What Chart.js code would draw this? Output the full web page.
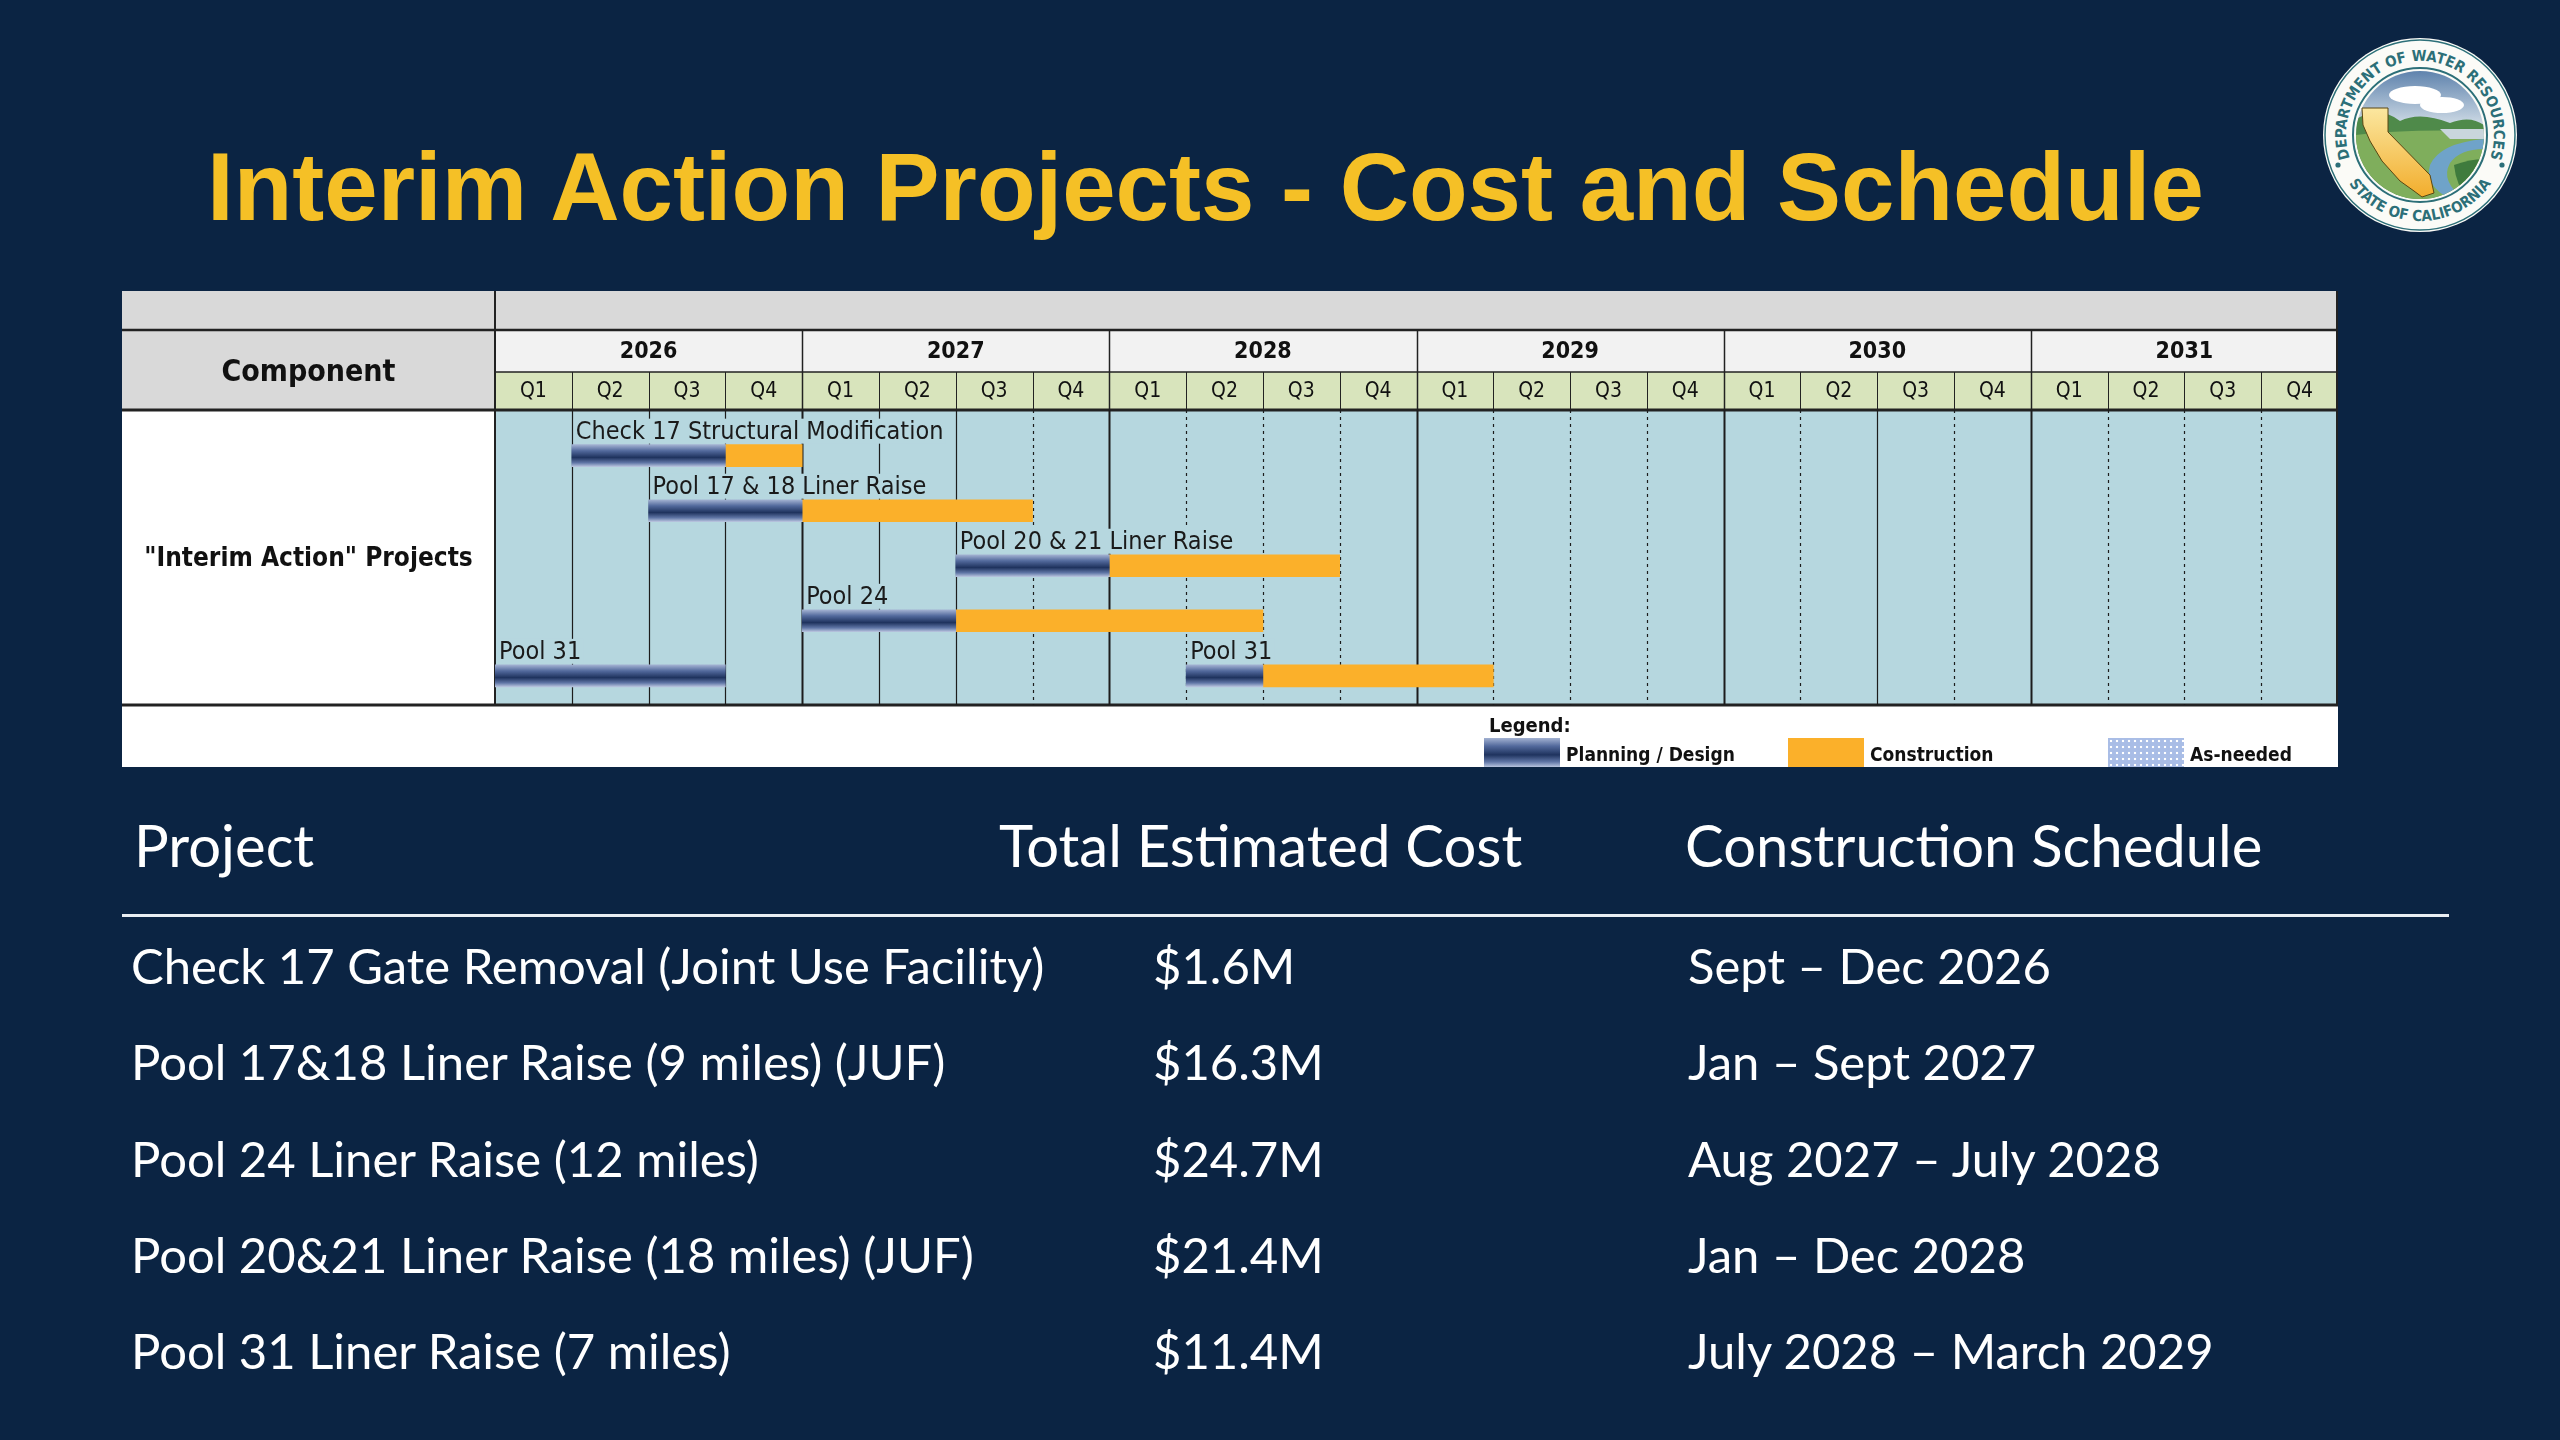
<!DOCTYPE html>
<html>
<head>
<meta charset="utf-8">
<title>Interim Action Projects - Cost and Schedule</title>
<script src="https://cdn.jsdelivr.net/npm/chart.js"></script>
<style>
  html, body { margin: 0; padding: 0; }
  body { width: 2560px; height: 1440px; background: #0b2443; position: relative; overflow: hidden; font-family: Lato, sans-serif; color: #fff; }
  #title { position: absolute; left: 207px; top: 139px; font: bold 96px "Liberation Sans", Arial, sans-serif; line-height: 1; color: #f5c026; white-space: nowrap; }
  #gantt { position: absolute; left: 122px; top: 291px; }
  #seal { position: absolute; left: 2320px; top: 35px; }
  .lg { position: absolute; font: bold 19px "DejaVu Sans Condensed", "DejaVu Sans", sans-serif; color: #111; white-space: nowrap; line-height: 1; }
  .sw { position: absolute; }
  .cell { position: absolute; white-space: nowrap; line-height: 1; color: #fff; }
  .head { font-size: 58px; }
  .row { font-size: 49px; }
  #rule { position: absolute; left: 122px; top: 914px; width: 2327px; height: 3px; background: #e9eef3; }
</style>
</head>
<body>
<div id="title">Interim Action Projects - Cost and Schedule</div>

<svg id="seal" width="200" height="200" viewBox="-100 -100 200 200">
  <defs>
    <path id="topArc" d="M -69.5 25.3 A 74 74 0 1 1 69.5 25.3"/>
    <path id="botArc" d="M -74.5 43 A 86 86 0 0 0 74.5 43"/>
    <clipPath id="inner"><circle r="64"/></clipPath>
    <linearGradient id="sky" x1="0" y1="0" x2="0" y2="1">
      <stop offset="0" stop-color="#5f83ad"/><stop offset="1" stop-color="#e3ebf0"/>
    </linearGradient>
    <linearGradient id="gold" x1="0" y1="0" x2="0" y2="1">
      <stop offset="0" stop-color="#fbe7a0"/><stop offset="1" stop-color="#f2ad2c"/>
    </linearGradient>
  </defs>
  <circle r="97" fill="#fbfbf7"/>
  <circle r="95" fill="none" stroke="#2c6f78" stroke-width="1.5"/>
  <circle r="67" fill="none" stroke="#2c6f78" stroke-width="2"/>
  <g clip-path="url(#inner)">
    <rect x="-64" y="-64" width="128" height="64" fill="url(#sky)"/>
    <ellipse cx="-5" cy="-40" rx="26" ry="9" fill="#fff"/>
    <ellipse cx="22" cy="-30" rx="22" ry="8" fill="#fff"/>
    <path d="M -64 -16 Q -40 -30 -20 -14 Q 0 -24 30 -12 Q 50 -20 64 -10 L 64 64 L -64 64 Z" fill="#4f8a4a"/>
    <path d="M -64 0 Q -20 -6 64 -4 L 64 64 L -64 64 Z" fill="#7fae5c"/>
    <path d="M 20 -6 L 64 -6 L 64 4 L 30 4 Z" fill="#c9d6dc"/>
    <path d="M 64 4 Q 20 8 10 30 Q 4 50 30 64 L 44 64 Q 20 46 30 28 Q 40 14 64 14 Z" fill="#6fa3c9"/>
    <path d="M 34 30 Q 50 24 64 24 L 64 64 L 48 64 Q 36 50 34 30 Z" fill="#3f7b3d"/>
  </g>
  <path d="M -58 -27 L -32 -27 L -32 -3 L 10 40 L 14 58 L 2 62 L -6 56 L -20 46 L -38 26 L -50 6 L -57 -10 Z" fill="url(#gold)" stroke="#5a4612" stroke-width="1"/>
  <text font-family="DejaVu Sans Condensed, DejaVu Sans, sans-serif" font-weight="bold" font-size="15" fill="#2c6f78"><textPath href="#topArc" startOffset="50%" text-anchor="middle">DEPARTMENT OF WATER RESOURCES</textPath></text>
  <text font-family="DejaVu Sans Condensed, DejaVu Sans, sans-serif" font-weight="bold" font-size="15" fill="#2c6f78"><textPath href="#botArc" startOffset="50%" text-anchor="middle">STATE OF CALIFORNIA</textPath></text>
  <circle cx="-82" cy="30" r="2.6" fill="#2c6f78"/>
  <circle cx="82" cy="30" r="2.6" fill="#2c6f78"/>
</svg>

<canvas id="gantt" width="2216" height="476"></canvas>
<div id="legend"></div>

<div id="costTable"></div>
<div id="rule"></div>

<script>
// timeline: quarters counted from 2026 Q1 (0) to end of 2031 Q4 (24)
const years = ['2026', '2027', '2028', '2029', '2030', '2031'];
const quarters = ['Q1', 'Q2', 'Q3', 'Q4'];

// planning / design segments (one label per segment)
const planLabels = ['Check 17 Structural Modification', 'Pool 17 & 18 Liner Raise', 'Pool 20 & 21 Liner Raise', 'Pool 24', 'Pool 31', 'Pool 31'];
const planRow   = [0, 1, 2, 3, 4, 4];
const planStart = [1, 2, 6, 4, 0, 9];
const planEnd   = [3, 4, 8, 6, 3, 10];

// construction segments
const buildRow   = [0, 1, 2, 3, 4];
const buildStart = [3, 4, 8, 6, 10];
const buildEnd   = [4, 7, 11, 10, 13];

const legendLabels = ['Planning / Design', 'Construction', 'As-needed'];

// cost / schedule table
const tableHeads = ['Project', 'Total Estimated Cost', 'Construction Schedule'];
const projects = ['Check 17 Gate Removal (Joint Use Facility)', 'Pool 17&18 Liner Raise (9 miles) (JUF)', 'Pool 24 Liner Raise (12 miles)', 'Pool 20&21 Liner Raise (18 miles) (JUF)', 'Pool 31 Liner Raise (7 miles)'];
const costs = ['$1.6M', '$16.3M', '$24.7M', '$21.4M', '$11.4M'];
const schedules = ['Sept \u2013 Dec 2026', 'Jan \u2013 Sept 2027', 'Aug 2027 \u2013 July 2028', 'Jan \u2013 Dec 2028', 'July 2028 \u2013 March 2029'];

const BODY = '#b6d7df';
const ORANGE = '#fbb02a';
const COND = '"DejaVu Sans Condensed", "DejaVu Sans", sans-serif';
const BAR = 22;

function planFill(c) {
  const chart = c.chart;
  if (c.type !== 'data' || !chart.chartArea) return '#2d4576';
  const yc = chart.scales.y.getPixelForValue(c.raw.y);
  const g = chart.ctx.createLinearGradient(0, yc - BAR / 2, 0, yc + BAR / 2);
  g.addColorStop(0, '#a3b2d2');
  g.addColorStop(0.28, '#52699c');
  g.addColorStop(0.58, '#1f335e');
  g.addColorStop(0.82, '#5f75a5');
  g.addColorStop(1, '#b8c4de');
  return g;
}

// header rows, component column, legend row and borders
const frame = {
  id: 'frame',
  beforeDraw(chart) {
    const { ctx, chartArea: a, width, height, scales: { x } } = chart;
    const qTop = a.top - 38, yTop = qTop - 42;
    const w = a.right - a.left;
    ctx.save();
    ctx.fillStyle = '#d9d9d9';
    ctx.fillRect(0, 0, width, yTop);
    ctx.fillRect(0, yTop, a.left, a.top - yTop);
    ctx.fillStyle = '#f2f2f2';
    ctx.fillRect(a.left, yTop, w, qTop - yTop);
    ctx.fillStyle = '#d8e4bc';
    ctx.fillRect(a.left, qTop, w, a.top - qTop);
    ctx.fillStyle = '#ffffff';
    ctx.fillRect(0, a.top, a.left, a.bottom - a.top);
    ctx.fillRect(0, a.bottom, width, height - a.bottom);
    ctx.fillStyle = BODY;
    ctx.fillRect(a.left, a.top, w, a.bottom - a.top);

    ctx.strokeStyle = '#222';
    const hline = (y, x0, x1, lw) => { ctx.lineWidth = lw; ctx.beginPath(); ctx.moveTo(x0, y); ctx.lineTo(x1, y); ctx.stroke(); };
    const vline = (px, y0, y1, lw) => { ctx.lineWidth = lw; ctx.beginPath(); ctx.moveTo(px, y0); ctx.lineTo(px, y1); ctx.stroke(); };
    hline(yTop, 0, width, 2.5);
    hline(qTop, a.left, a.right, 1.5);
    hline(a.top, 0, width, 3);
    hline(a.bottom, 0, width, 3);
    vline(a.left, 0, a.bottom, 2);
    vline(a.right - 1, 0, a.bottom, 2);
    for (let q = 1; q < 24; q++) {
      const px = Math.round(x.getPixelForValue(q)) + 0.5;
      if (q % 4 === 0) vline(px, yTop, a.top, 1.5);
      else vline(px, qTop, a.top, 1);
    }

    ctx.fillStyle = '#111';
    ctx.textAlign = 'center';
    ctx.textBaseline = 'middle';
    ctx.font = 'bold 23px ' + COND;
    years.forEach((yr, i) => ctx.fillText(yr, x.getPixelForValue(i * 4 + 2), (yTop + qTop) / 2 + 1));
    ctx.font = '21px ' + COND;
    years.forEach((yr, i) => quarters.forEach((q, j) => ctx.fillText(q, x.getPixelForValue(i * 4 + j + 0.5), (qTop + a.top) / 2 + 1)));
    ctx.font = 'bold 30px ' + COND;
    ctx.fillText('Component', a.left / 2, (yTop + a.top) / 2 + 3);
    ctx.font = 'bold 26px ' + COND;
    ctx.fillText('"Interim Action" Projects', a.left / 2, (a.top + a.bottom) / 2 + 2);
    ctx.restore();
  }
};

// quarter and year grid lines in the body
const gridLines = {
  id: 'gridLines',
  beforeDatasetsDraw(chart) {
    const { ctx, chartArea: a, scales: { x } } = chart;
    const solid = [1, 2, 3, 5, 6, 18];
    ctx.save();
    ctx.strokeStyle = '#1c1c1c';
    for (let q = 1; q < 24; q++) {
      const px = Math.round(x.getPixelForValue(q)) + 0.5;
      const year = q % 4 === 0;
      ctx.lineWidth = year ? 2 : 1.2;
      ctx.setLineDash(year || solid.includes(q) ? [] : [3, 4]);
      ctx.beginPath();
      ctx.moveTo(px, a.top);
      ctx.lineTo(px, a.bottom);
      ctx.stroke();
    }
    ctx.restore();
  }
};

// project names above the planning bars
const barLabels = {
  id: 'barLabels',
  afterDatasetsDraw(chart) {
    const { ctx, scales: { x, y } } = chart;
    ctx.save();
    ctx.font = '25px ' + COND;
    ctx.textBaseline = 'middle';
    ctx.textAlign = 'left';
    planLabels.forEach((t, i) => {
      const px = x.getPixelForValue(planStart[i]);
      const py = y.getPixelForValue(planRow[i]) - 24;
      const tw = ctx.measureText(t).width;
      ctx.fillStyle = BODY;
      ctx.fillRect(px + 2, py - 13, tw + 4, 25);
      ctx.fillStyle = '#1a1a1a';
      ctx.fillText(t, px + 4, py + 1);
    });
    ctx.restore();
  }
};

const chart = new Chart(document.getElementById('gantt'), {
  type: 'bar',
  data: {
    datasets: [
      {
        label: legendLabels[0],
        data: planRow.map((r, i) => ({ x: [planStart[i], planEnd[i]], y: r })),
        backgroundColor: planFill,
        barThickness: BAR,
        grouped: false,
        borderWidth: 0
      },
      {
        label: legendLabels[1],
        data: buildRow.map((r, i) => ({ x: [buildStart[i], buildEnd[i]], y: r })),
        backgroundColor: ORANGE,
        barThickness: BAR,
        grouped: false,
        borderWidth: 0
      }
    ]
  },
  options: {
    indexAxis: 'y',
    responsive: false,
    animation: false,
    layout: { padding: { left: 373, top: 119, right: 0, bottom: 62 } },
    scales: {
      x: { type: 'linear', min: 0, max: 24, display: false },
      y: { type: 'linear', min: -0.83, max: 4.53, reverse: true, offset: false, display: false }
    },
    plugins: { legend: { display: false }, tooltip: { enabled: false } }
  },
  plugins: [frame, gridLines, barLabels]
});

// legend row
const legend = document.getElementById('legend');
const swatchFills = [
  'linear-gradient(to bottom, #a3b2d2 0%, #52699c 28%, #1f335e 58%, #5f75a5 82%, #b8c4de 100%)',
  ORANGE,
  'radial-gradient(circle, #ffffff 1.2px, transparent 1.6px) 0 0 / 6px 6px, #a9bde6'
];
const swatchLeft = [1484, 1788, 2108];
legend.innerHTML = '<div class="lg" style="left:1489px; top:715px; font-size:20px">Legend:</div>' +
  legendLabels.map((t, i) =>
    '<div class="sw" style="left:' + swatchLeft[i] + 'px; top:738px; width:76px; height:29px; background:' + swatchFills[i] + '"></div>' +
    '<div class="lg" style="left:' + (swatchLeft[i] + 82) + 'px; top:745px">' + t + '</div>'
  ).join('');

// cost / schedule table
const colLeft = [131, 1153, 1688];
const headLeft = [134, 999, 1685];
let html = tableHeads.map((t, i) => '<div class="cell head" style="left:' + headLeft[i] + 'px; top:816px">' + t + '</div>').join('');
projects.forEach((p, i) => {
  const top = 941 + i * 96.3;
  [p, costs[i], schedules[i]].forEach((t, j) => {
    html += '<div class="cell row" style="left:' + colLeft[j] + 'px; top:' + top + 'px">' + t + '</div>';
  });
});
document.getElementById('costTable').innerHTML = html;
</script>
</body>
</html>
